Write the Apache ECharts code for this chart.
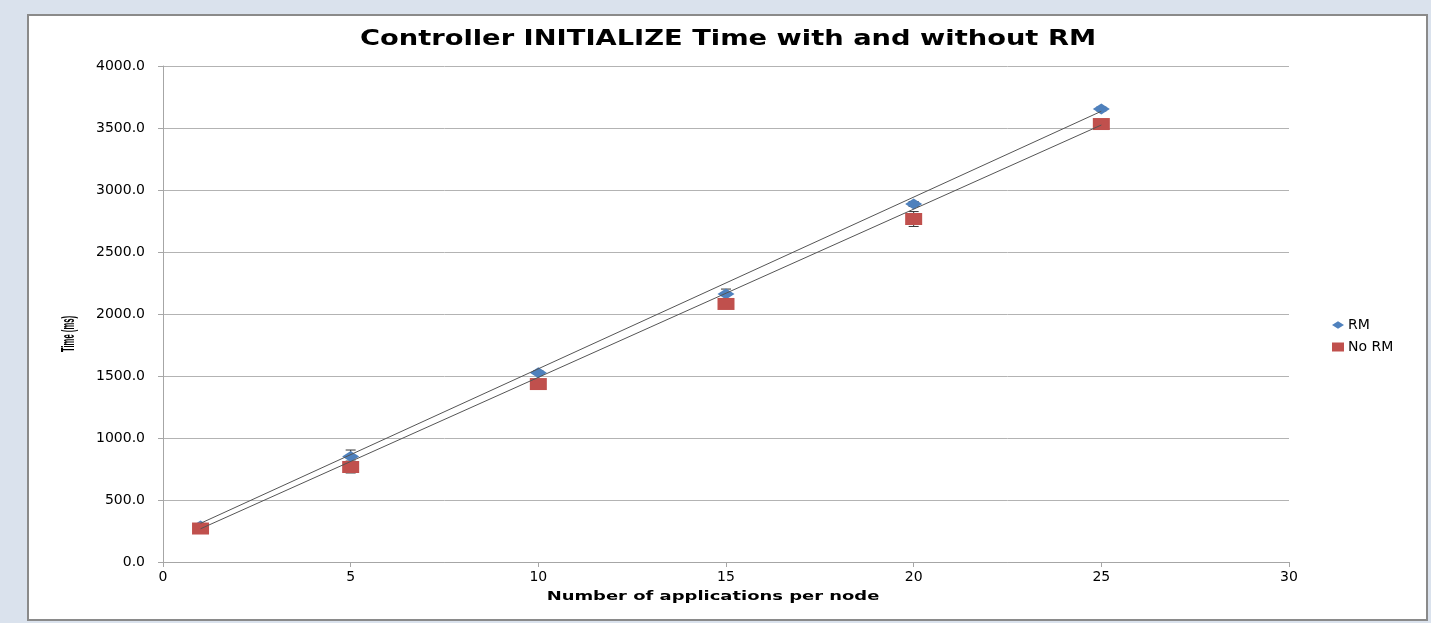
<!DOCTYPE html>
<html>
<head>
<meta charset="utf-8">
<script src="https://cdn.jsdelivr.net/npm/echarts@6/dist/echarts.min.js"></script>
<style>
html,body{margin:0;padding:0;background:#dae2ed;}
#chart{width:1431px;height:623px;}
</style>
</head>
<body>
<div id="chart"></div>
<script>
// Data
var xValues = [1, 5, 10, 15, 20, 25];
var rmValues = [290, 850, 1527, 2161, 2887, 3653];
var rmErrors = [15, 53, 15, 40, 20, 15];
var noRmValues = [270, 766, 1435, 2081, 2766, 3532];
var noRmErrors = [15, 48, 15, 15, 60, 15];
var rmTrend = [[1, 312], [25, 3635]];
var noRmTrend = [[1, 268], [25, 3524]];
var yTicks = [0, 500, 1000, 1500, 2000, 2500, 3000, 3500, 4000];
var xTicks = [0, 5, 10, 15, 20, 25, 30];
var titleText = 'Controller INITIALIZE Time with and without RM';
var xName = 'Number of applications per node';
var yName = 'Time (ms)';

var chart = echarts.init(document.getElementById('chart'));

function pairs(xs, ys) { return xs.map(function (x, i) { return [x, ys[i]]; }); }
function errPairs(xs, ys, es) { return xs.map(function (x, i) { return [x, ys[i] - es[i], ys[i] + es[i]]; }); }

function renderErr(params, api) {
  var x = api.value(0);
  var lo = api.coord([x, api.value(1)]);
  var hi = api.coord([x, api.value(2)]);
  var w = 5;
  var st = { stroke: '#333', lineWidth: 1 };
  return {
    type: 'group',
    children: [
      { type: 'line', shape: { x1: lo[0], y1: lo[1], x2: hi[0], y2: hi[1] }, style: st },
      { type: 'line', shape: { x1: lo[0] - w, y1: lo[1], x2: lo[0] + w, y2: lo[1] }, style: st },
      { type: 'line', shape: { x1: hi[0] - w, y1: hi[1], x2: hi[0] + w, y2: hi[1] }, style: st }
    ]
  };
}

var diamond = 'path://M0,5 L8,0 L16,5 L8,10 Z';
var font = 'DejaVu Sans, Verdana, sans-serif';

chart.setOption({
  animation: false,
  graphic: [
    { type: 'rect', z: -10,
      shape: { x: 28, y: 15, width: 1399, height: 605 },
      style: { fill: '#ffffff', stroke: '#8a8a8a', lineWidth: 2 } },
    { type: 'text', x: 728, y: 40, scaleX: 1.3, z: 10,
      style: { text: titleText, font: 'bold 21px DejaVu Sans, Verdana, sans-serif', fill: '#000',
        align: 'center', verticalAlign: 'middle' } },
    { type: 'text', x: 713, y: 597, scaleX: 1.38, z: 10,
      style: { text: xName, font: 'bold 13px DejaVu Sans, Verdana, sans-serif', fill: '#000',
        align: 'center', verticalAlign: 'middle' } },
    { type: 'text', x: 69, y: 334, rotation: Math.PI / 2, scaleX: 0.55, scaleY: 1.3, z: 10,
      style: { text: yName, font: 'bold 14px Liberation Sans Narrow, Liberation Sans, sans-serif', fill: '#000',
        align: 'center', verticalAlign: 'middle' } }
  ],
  legend: {
    orient: 'vertical', left: 1327, top: 313, itemGap: 8,
    itemWidth: 12, itemHeight: 9,
    textStyle: { fontFamily: font, fontSize: 14, color: '#000', padding: [0, 0, 0, -1] },
    data: [
      { name: 'RM', icon: diamond, itemStyle: { color: '#4f81bd' } },
      { name: 'No RM', icon: 'rect', itemStyle: { color: '#c0504d' } }
    ]
  },
  grid: { left: 163, right: 142, top: 66, bottom: 61 },
  xAxis: {
    type: 'value', min: xTicks[0], max: xTicks[xTicks.length - 1], interval: 5,
    axisLine: { show: true, lineStyle: { color: '#a6a6a6' } },
    axisTick: { show: true, length: 5, lineStyle: { color: '#a6a6a6' } },
    axisLabel: { fontFamily: font, fontSize: 14, color: '#000', margin: 8 },
    splitLine: { show: false }
  },
  yAxis: {
    type: 'value', min: yTicks[0], max: yTicks[yTicks.length - 1], interval: 500,
    axisLine: { show: true, lineStyle: { color: '#a6a6a6' } },
    axisTick: { show: true, length: 5, lineStyle: { color: '#a6a6a6' } },
    axisLabel: { fontFamily: font, fontSize: 14, color: '#000', margin: 18,
      formatter: function (v) { return v.toFixed(1); } },
    splitLine: { show: true, lineStyle: { color: '#b3b3b3' } }
  },
  series: [
    { type: 'custom', name: 'RM err', renderItem: renderErr, data: errPairs(xValues, rmValues, rmErrors), z: 2, silent: true },
    { type: 'custom', name: 'No RM err', renderItem: renderErr, data: errPairs(xValues, noRmValues, noRmErrors), z: 2, silent: true },
    { type: 'scatter', name: 'RM', data: pairs(xValues, rmValues), symbol: diamond, symbolSize: [17, 11],
      itemStyle: { color: '#4f81bd', opacity: 1 }, z: 3 },
    { type: 'scatter', name: 'No RM', data: pairs(xValues, noRmValues), symbol: 'rect', symbolSize: [17, 12],
      itemStyle: { color: '#c0504d', opacity: 1 }, z: 4 },
    { type: 'line', name: 'RM trend', data: rmTrend, symbol: 'none', lineStyle: { color: '#555', width: 1 }, z: 5, silent: true },
    { type: 'line', name: 'No RM trend', data: noRmTrend, symbol: 'none', lineStyle: { color: '#555', width: 1 }, z: 5, silent: true }
  ]
});
</script>
</body>
</html>
